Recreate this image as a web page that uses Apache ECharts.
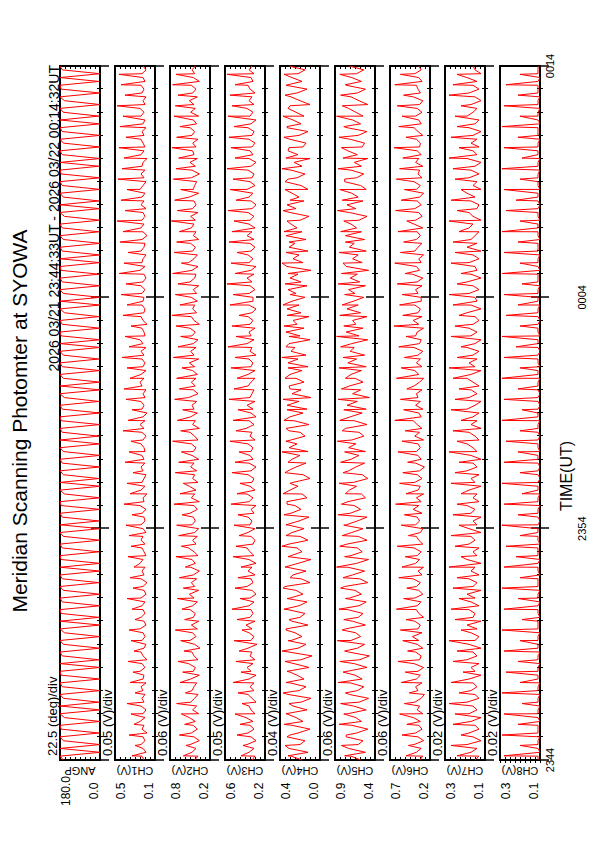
<!DOCTYPE html>
<html><head><meta charset="utf-8">
<script src="https://cdn.jsdelivr.net/npm/echarts@6/dist/echarts.min.js"></script>
<style>
html,body{margin:0;padding:0;background:#fff;width:595px;height:842px;overflow:hidden}
#wrap{position:absolute;left:0;top:0;width:842px;height:595px;transform-origin:0 0;transform:translate(0,842px) rotate(-90deg)}
</style></head>
<body><div id="wrap"></div>
<script>
const TITLE = 'Meridian Scanning Photomter at SYOWA';
const SUBTITLE = '2026 03/21 23:44:33UT - 2026 03/22 00:14:32UT';
const X_NAME = 'TIME(UT)';
const channelNames = ['ANGP','CH1(V)','CH2(V)','CH3(V)','CH4(V)','CH5(V)','CH6(V)','CH7(V)','CH8(V)'];
const scaleTexts = ['22.5 (deg)/div','0.05 (V)/div','0.06 (V)/div','0.05 (V)/div','0.04 (V)/div','0.06 (V)/div','0.06 (V)/div','0.02 (V)/div','0.02 (V)/div'];
const axisMin = [0, 0.1, 0.2, 0.2, 0.0, 0.4, 0.2, 0.1, 0.1];
const axisMax = [180, 0.5, 0.8, 0.6, 0.4, 0.9, 0.7, 0.3, 0.3];
const minLabels = ['0.0','0.1','0.2','0.2','0.0','0.4','0.2','0.1','0.1'];
const maxLabels = ['180.0','0.5','0.8','0.6','0.4','0.9','0.7','0.3','0.3'];
const timeTickMinutes = [0, 10, 20, 30];
const timeTickLabels = ['2344','2354','0004','0014'];
const SAMPLE_STEP_MIN = 1/6; // base samples every 10 s, minutes after 23:44
const DIVS = 8;

// scan-synchronous spike times (minutes after 23:44)
const SPIKE_TIMES = [0.18,0.63,1.08,1.54,1.99,2.44,2.90,3.35,3.80,4.26,4.71,5.16,5.62,6.07,6.52,6.98,7.43,7.88,8.34,8.79,9.24,9.70,
10.15,10.60,11.06,11.51,11.96,12.42,12.87,13.32,13.78,14.23,14.68,15.14,15.59,16.04,16.50,16.95,17.40,17.86,18.31,18.76,19.22,19.67,
20.12,20.58,21.03,21.48,21.94,22.39,22.84,23.30,23.75,24.20,24.66,25.11,25.56,26.02,26.47,26.92,27.38,27.83,28.28,28.74,29.19,29.64];

const ANGP = [
165,180,0,180,0,165,180,5,175,180,0,160,180,0,180,5,165,180,0,170,
180,0,175,180,0,180,5,170,180,0,165,180,0,160,180,0,180,5,175,180,
0,170,180,0,165,180,5,170,180,0,180,0,175,180,5,170,180,0,165,180,
0,180,5,170,180,0,175,180,0,160,180,0,180,5,165,180,0,170,180,0,
165,180,0,180,5,170,180,0,175,180,0,170,180,5,160,180,0,180,0,165,
180,0,170,180,5,165,180,0,180,0,175,180,0,170,180,5,160,180,0,180,
0,165,180,0,170,180,5,175,180,0,180,0,170,180,0,165,180,5,170,180,
0,160,180,0,180,5,165,180,0,170,180,0,175,180,5,180,0,170,180,0,
165,180,0,170,180,0,180,5,165,180,0,160,180,0,175,180,5,180,0,170,
180];
const CH1 = [
.21,.23,.19,.22,.24,.20,.22,.18,.23,.21,.25,.20,.22,.19,.24,.21,.23,.20,.22,.24,
.19,.22,.21,.25,.20,.23,.18,.22,.24,.21,.19,.23,.20,.22,.25,.19,.21,.24,.20,.22,
.23,.20,.24,.19,.21,.22,.18,.24,.21,.23,.20,.25,.22,.19,.21,.23,.20,.24,.22,.19,
.22,.24,.20,.21,.23,.19,.25,.21,.22,.18,.24,.20,.23,.21,.19,.22,.24,.20,.21,.23,
.20,.21,.24,.22,.19,.23,.21,.25,.20,.22,.18,.23,.21,.24,.20,.22,.19,.23,.25,.21,
.24,.19,.22,.20,.23,.21,.24,.19,.22,.25,.20,.21,.23,.18,.22,.24,.21,.20,.23,.22,
.21,.23,.20,.24,.22,.19,.21,.25,.20,.23,.22,.19,.24,.21,.20,.23,.18,.22,.24,.21,
.23,.20,.22,.19,.24,.21,.23,.20,.25,.22,.19,.21,.24,.20,.23,.22,.18,.24,.21,.20,
.22,.24,.21,.23,.19,.22,.20,.24,.21,.25,.20,.22,.19,.23,.21,.24,.20,.22,.23,.19,
.22];
const CH1_SPIKES = [.33,.30,.36,.31,.34,.38,.30,.35,.32,.37,.31,.34,.36,.30,.33,.38,.32,.35,.31,.37,.34,.36,
.39,.33,.41,.35,.38,.32,.40,.36,.34,.42,.37,.33,.39,.41,.35,.38,.43,.36,.40,.34,.42,.38,
.44,.39,.46,.41,.37,.45,.42,.48,.40,.44,.38,.47,.43,.41,.46,.39,.45,.42,.48,.40,.44,.46];
const CH2 = [
.43,.38,.47,.41,.50,.36,.44,.48,.39,.45,.42,.51,.37,.46,.40,.49,.43,.38,.47,.44,
.40,.49,.36,.45,.42,.52,.38,.44,.47,.35,.43,.50,.41,.46,.39,.48,.37,.45,.42,.50,
.46,.39,.44,.51,.37,.43,.48,.40,.45,.36,.49,.42,.47,.38,.44,.52,.41,.46,.39,.43,
.37,.47,.42,.45,.50,.39,.44,.36,.48,.43,.41,.51,.38,.46,.43,.40,.49,.44,.37,.47,
.45,.41,.48,.38,.43,.50,.36,.46,.42,.49,.39,.44,.47,.40,.52,.38,.45,.42,.48,.41,
.39,.46,.43,.51,.37,.44,.49,.41,.45,.38,.47,.42,.50,.36,.44,.48,.40,.46,.43,.39,
.48,.40,.45,.37,.50,.43,.41,.47,.38,.52,.44,.39,.46,.42,.49,.37,.45,.41,.48,.44,
.42,.49,.38,.46,.41,.44,.51,.37,.45,.43,.40,.48,.36,.47,.42,.50,.39,.44,.46,.41,
.46,.38,.47,.43,.50,.40,.45,.37,.49,.42,.44,.51,.39,.46,.41,.48,.36,.45,.43,.47,
.42];
const CH2_SPIKES = [.60,.56,.66,.58,.63,.70,.57,.65,.61,.68,.59,.64,.72,.58,.62,.69,.60,.66,.57,.71,.63,.67,
.70,.62,.74,.65,.60,.72,.67,.63,.76,.64,.69,.61,.73,.66,.70,.62,.75,.68,.64,.71,.77,.65,
.72,.68,.76,.63,.74,.70,.66,.78,.69,.73,.64,.75,.71,.67,.77,.70,.65,.74,.72,.68,.76,.71];
const CH3 = [
.33,.30,.36,.31,.38,.29,.34,.37,.31,.35,.32,.39,.30,.34,.36,.29,.33,.37,.31,.35,
.31,.36,.29,.34,.38,.32,.30,.35,.33,.37,.28,.34,.31,.36,.33,.39,.30,.35,.32,.34,
.36,.31,.35,.29,.33,.38,.32,.34,.30,.37,.33,.29,.36,.31,.35,.38,.32,.30,.34,.37,
.30,.35,.33,.37,.31,.34,.29,.36,.32,.38,.30,.35,.33,.31,.37,.34,.29,.36,.32,.35,
.34,.32,.37,.30,.35,.33,.39,.31,.36,.29,.34,.32,.38,.30,.35,.33,.31,.37,.34,.30,
.37,.30,.34,.32,.36,.29,.35,.33,.38,.31,.34,.36,.30,.35,.32,.37,.33,.29,.36,.32,
.32,.36,.30,.35,.33,.38,.31,.34,.29,.36,.32,.37,.34,.30,.35,.31,.38,.33,.30,.36,
.35,.31,.37,.33,.29,.34,.36,.32,.38,.30,.35,.33,.31,.37,.34,.29,.36,.32,.35,.33,
.30,.36,.33,.31,.37,.34,.29,.35,.32,.38,.31,.36,.33,.30,.35,.37,.32,.34,.31,.36,
.33];
const CH3_SPIKES = [.44,.42,.48,.45,.50,.43,.47,.52,.44,.49,.46,.51,.43,.48,.53,.45,.50,.47,.44,.52,.49,.46,
.51,.47,.54,.48,.45,.53,.50,.46,.55,.49,.52,.47,.56,.51,.48,.54,.50,.57,.49,.53,.46,.55,
.52,.58,.50,.54,.48,.56,.53,.51,.57,.49,.55,.52,.58,.50,.54,.56,.51,.57,.53,.55,.50,.58];
const CH4 = [
.18,.29,.12,.31,.20,.15,.33,.22,.10,.28,.17,.24,.34,.13,.27,.19,.09,.32,.21,.14,
.30,.16,.23,.33,.11,.26,.19,.08,.31,.22,.14,.29,.18,.25,.34,.12,.28,.20,.15,.32,
.21,.13,.30,.17,.24,.35,.10,.19,.27,.14,.33,.22,.09,.29,.18,.23,.31,.12,.20,.28,
.16,.34,.21,.11,.29,.19,.25,.33,.13,.18,.30,.22,.27,.10,.17,.32,.24,.14,.28,.20,
.12,.31,.23,.29,.15,.20,.34,.11,.26,.30,.17,.13,.33,.21,.09,.28,.19,.31,.16,.24,
.30,.18,.12,.32,.22,.14,.29,.25,.31,.10,.20,.34,.16,.23,.27,.11,.19,.33,.21,.28,
.15,.24,.32,.13,.19,.30,.22,.09,.33,.17,.27,.21,.12,.31,.25,.14,.34,.18,.23,.29,
.20,.11,.30,.24,.33,.16,.21,.28,.12,.19,.35,.23,.15,.29,.18,.26,.10,.22,.32,.17,
.14,.30,.21,.12,.33,.19,.27,.16,.24,.32,.10,.20,.29,.23,.13,.34,.18,.28,.22,.15,
.31];
const CH4_SPIKES = [.32,.35,.30,.36,.33,.31,.37,.34,.30,.35,.38,.32,.34,.31,.36,.33,.37,.30,.35,.32,.38,.34,
.31,.36,.33,.37,.30,.35,.32,.38,.34,.31,.36,.33,.37,.30,.35,.32,.38,.34,.31,.36,.33,.37,
.30,.35,.32,.38,.34,.31,.36,.33,.37,.30,.35,.32,.38,.34,.31,.36,.33,.37,.30,.35,.32,.36];
const CH5 = [
.58,.70,.52,.73,.61,.55,.76,.63,.49,.69,.57,.64,.74,.51,.67,.60,.48,.72,.62,.54,
.71,.56,.65,.75,.50,.66,.59,.47,.73,.62,.53,.70,.58,.64,.77,.52,.68,.61,.55,.74,
.60,.51,.72,.57,.65,.78,.49,.59,.68,.53,.74,.63,.48,.70,.56,.62,.75,.50,.61,.69,
.55,.76,.62,.50,.71,.58,.66,.74,.52,.57,.72,.63,.67,.49,.56,.73,.64,.53,.70,.60,
.52,.73,.64,.69,.54,.60,.77,.50,.66,.71,.56,.51,.75,.62,.47,.68,.58,.72,.55,.65,
.70,.57,.51,.74,.63,.53,.71,.66,.69,.49,.60,.76,.55,.64,.68,.50,.58,.75,.61,.67,
.54,.65,.73,.52,.59,.71,.62,.48,.76,.56,.68,.61,.51,.72,.66,.53,.77,.57,.63,.70,
.60,.50,.72,.64,.75,.55,.61,.69,.51,.58,.78,.63,.54,.70,.57,.66,.49,.62,.74,.56,
.53,.71,.61,.50,.75,.58,.68,.55,.64,.73,.49,.60,.70,.62,.52,.76,.57,.69,.63,.54,
.72];
const CH5_SPIKES = [.78,.82,.76,.85,.79,.83,.77,.86,.80,.84,.78,.87,.81,.79,.85,.77,.83,.80,.88,.78,.84,.81,
.79,.86,.82,.77,.85,.80,.83,.78,.87,.81,.84,.79,.86,.82,.77,.85,.80,.83,.88,.79,.84,.81,
.78,.86,.82,.80,.85,.77,.83,.79,.87,.81,.84,.78,.86,.80,.82,.85,.79,.88,.81,.83,.77,.84];
const CH6 = [
.33,.29,.37,.31,.40,.28,.35,.38,.30,.34,.32,.41,.29,.36,.33,.39,.31,.27,.35,.38,
.30,.37,.32,.35,.28,.40,.33,.31,.38,.29,.36,.34,.42,.30,.35,.32,.39,.28,.34,.37,
.36,.31,.39,.29,.34,.37,.32,.41,.30,.35,.28,.38,.33,.36,.31,.40,.29,.34,.37,.32,
.29,.38,.33,.36,.30,.41,.34,.31,.37,.28,.35,.32,.39,.30,.36,.33,.27,.38,.31,.35,
.37,.32,.35,.28,.39,.33,.30,.36,.41,.31,.34,.29,.38,.32,.35,.37,.30,.40,.33,.28,
.34,.39,.30,.37,.32,.35,.29,.40,.33,.31,.38,.36,.28,.34,.41,.30,.35,.32,.39,.31,
.31,.35,.38,.30,.36,.29,.42,.33,.37,.31,.34,.28,.39,.35,.30,.37,.32,.36,.29,.40,
.38,.30,.34,.39,.31,.36,.33,.28,.37,.32,.40,.30,.35,.33,.29,.38,.34,.31,.36,.33,
.32,.37,.29,.35,.40,.31,.34,.38,.30,.36,.33,.29,.41,.32,.35,.37,.30,.34,.39,.31,
.34];
const CH6_SPIKES = [.50,.47,.55,.49,.58,.52,.46,.56,.51,.60,.48,.54,.57,.50,.62,.53,.49,.59,.55,.51,.61,.47,
.56,.52,.63,.50,.58,.54,.48,.60,.55,.51,.64,.53,.57,.49,.62,.56,.52,.59,.50,.65,.54,.58,
.55,.61,.51,.64,.57,.53,.60,.49,.63,.56,.52,.62,.58,.54,.65,.50,.59,.55,.61,.53,.64,.57];
const CH7 = [
.15,.13,.17,.14,.19,.12,.16,.18,.13,.15,.17,.12,.18,.14,.16,.19,.13,.15,.17,.14,
.16,.18,.12,.15,.17,.13,.19,.14,.16,.12,.18,.15,.13,.17,.14,.19,.12,.16,.15,.18,
.13,.17,.15,.19,.12,.16,.14,.18,.13,.17,.15,.12,.19,.14,.16,.13,.18,.15,.17,.12,
.18,.14,.16,.12,.17,.15,.19,.13,.16,.14,.18,.12,.15,.17,.13,.19,.14,.16,.12,.17,
.14,.16,.19,.13,.15,.18,.12,.17,.14,.16,.13,.19,.15,.12,.18,.14,.17,.13,.16,.19,
.17,.12,.15,.18,.14,.16,.13,.19,.15,.12,.17,.14,.18,.16,.13,.15,.19,.12,.17,.14,
.15,.18,.13,.16,.19,.12,.17,.14,.15,.18,.13,.16,.12,.19,.14,.17,.15,.13,.18,.16,
.12,.16,.18,.14,.13,.17,.15,.19,.12,.16,.14,.18,.13,.17,.15,.12,.19,.14,.16,.13,
.17,.14,.16,.12,.18,.15,.13,.19,.16,.14,.17,.12,.15,.18,.13,.16,.14,.19,.12,.15,
.16];
const CH7_SPIKES = [.24,.27,.22,.26,.25,.28,.23,.27,.21,.26,.24,.28,.22,.25,.27,.23,.26,.24,.28,.22,.25,.27,
.23,.26,.24,.22,.27,.25,.23,.28,.24,.26,.22,.27,.25,.23,.26,.28,.24,.22,.27,.25,.23,.26,
.28,.24,.22,.27,.25,.26,.23,.28,.24,.27,.22,.25,.26,.28,.23,.27,.24,.25,.22,.28,.26,.24];
const CH8 = [
.11,.11,.10,.11,.11,.11,.10,.11,.11,.11,.10,.11,.11,.11,.10,.11,.11,.10,.11,.11,
.10,.11,.11,.11,.11,.10,.11,.11,.10,.11,.11,.11,.11,.10,.11,.11,.11,.10,.11,.11,
.11,.10,.11,.11,.10,.11,.11,.11,.10,.11,.11,.11,.10,.11,.11,.11,.10,.11,.11,.11,
.11,.11,.10,.11,.11,.11,.10,.11,.11,.10,.11,.11,.11,.10,.11,.11,.10,.11,.11,.11,
.10,.11,.11,.11,.10,.11,.11,.11,.10,.11,.11,.11,.10,.11,.11,.10,.11,.11,.11,.10,
.11,.11,.10,.11,.11,.11,.10,.11,.11,.11,.10,.11,.11,.11,.10,.11,.11,.11,.10,.11,
.11,.11,.11,.10,.11,.11,.11,.10,.11,.11,.11,.10,.11,.11,.11,.10,.11,.11,.11,.11,
.10,.11,.11,.11,.10,.11,.11,.11,.10,.11,.11,.11,.11,.10,.11,.11,.10,.11,.11,.11,
.11,.10,.11,.11,.11,.10,.11,.11,.11,.10,.11,.11,.10,.11,.11,.11,.11,.10,.11,.11,
.11];
const CH8_SPIKES = [.28,.20,.29,.21,.28,.19,.29,.20,.27,.21,.28,.20,.29,.19,.28,.21,.29,.20,.28,.22,.27,.20,
.29,.21,.28,.19,.29,.20,.28,.21,.27,.20,.29,.19,.28,.21,.29,.20,.28,.22,.29,.20,.27,.21,
.28,.19,.29,.20,.28,.21,.29,.20,.27,.22,.28,.20,.29,.19,.28,.21,.29,.20,.28,.21,.27,.20];

const channelBase = [ANGP, CH1, CH2, CH3, CH4, CH5, CH6, CH7, CH8];
const channelSpikes = [null, CH1_SPIKES, CH2_SPIKES, CH3_SPIKES, CH4_SPIKES, CH5_SPIKES, CH6_SPIKES, CH7_SPIKES, CH8_SPIKES];

const FONT = '"Liberation Sans", Arial, Helvetica, sans-serif';
const GRID_LEFT = 82, GRID_RIGHT = 66, GRID_TOP0 = 60, GRID_STEP = 55, GRID_H = 40;
const RED = '#ff0000';

function buildSeriesData(base, spikes) {
  const pts = base.map((v, k) => [k * SAMPLE_STEP_MIN, v]);
  if (spikes) spikes.forEach((v, k) => pts.push([SPIKE_TIMES[k], v]));
  pts.sort((a, b) => a[0] - b[0]);
  return pts;
}

function timeAxis(gi, pos, mode) {
  const inner = mode === 'inner';
  return {
    gridIndex: gi, type: 'value', position: pos, min: 0, max: 30, interval: 10,
    axisLine: {show: false},
    axisTick: {show: !inner, inside: true, length: 9, lineStyle: {color: '#000', width: 1.5}},
    minorTick: {show: !inner, splitNumber: 10, length: 3, lineStyle: {color: '#000', width: 1}},
    splitLine: {show: false}, minorSplitLine: {show: false},
    axisLabel: {
      show: mode !== 'none', margin: inner ? 36 : 4, fontSize: 11, color: '#000', fontFamily: FONT,
      showMinLabel: true, showMaxLabel: true,
      formatter: function (v) {
        const k = timeTickMinutes.findIndex(t => Math.abs(t - v) < 1e-6);
        if (k < 0) return '';
        const end = (k === 0 || k === timeTickMinutes.length - 1);
        return (inner ? !end : end) ? timeTickLabels[k] : '';
      }
    }
  };
}
function dataAxis(gi) {
  return {
    gridIndex: gi, type: 'value', position: 'left', min: axisMin[gi], max: axisMax[gi],
    axisLine: {show: false}, axisTick: {show: false}, splitLine: {show: false},
    axisLabel: {
      margin: 31, fontSize: 12, color: '#000', fontFamily: FONT, align: 'center',
      showMinLabel: true, showMaxLabel: true,
      verticalAlignMinLabel: 'bottom', verticalAlignMaxLabel: 'top',
      formatter: function (v) {
        if (Math.abs(v - axisMax[gi]) < 1e-9) return maxLabels[gi];
        if (Math.abs(v - axisMin[gi]) < 1e-9) return minLabels[gi];
        return '';
      }
    },
    name: channelNames[gi], nameLocation: 'middle', nameGap: 5, nameMoveOverlap: false,
    nameTextStyle: {fontSize: 11, color: '#000', fontFamily: FONT}
  };
}
function divAxis(gi, pos) {
  return {
    gridIndex: gi, type: 'value', position: pos, min: 0, max: DIVS, interval: 1,
    axisLine: {show: false},
    axisTick: {show: true, inside: true, length: 3, lineStyle: {color: '#000', width: 1}},
    axisLabel: {show: false}, splitLine: {show: false}
  };
}

const option = {
  animation: false,
  backgroundColor: '#fff',
  textStyle: {fontFamily: FONT},
  title: {text: TITLE, left: 'center', top: 9, padding: 0,
    textStyle: {fontSize: 21, fontWeight: 'normal', color: '#000', fontFamily: FONT}},
  grid: [], xAxis: [], yAxis: [], series: [],
  graphic: []
};

option.graphic.push({type: 'text', x: 842 - GRID_RIGHT + 1, y: GRID_TOP0 + 1,
  style: {text: SUBTITLE, fontSize: 14, fontFamily: FONT, fill: '#000', align: 'right', verticalAlign: 'bottom'}});
option.graphic.push({type: 'text', x: 366, y: 566,
  style: {text: X_NAME, fontSize: 16, fontFamily: FONT, fill: '#000', align: 'center', verticalAlign: 'middle'}});

for (let i = 0; i < channelBase.length; i++) {
  const top = GRID_TOP0 + GRID_STEP * i;
  option.grid.push({left: GRID_LEFT, right: GRID_RIGHT, top: top, height: GRID_H,
    show: true, borderColor: '#000', borderWidth: 2, backgroundColor: 'rgba(0,0,0,0)'});
  const last = i === channelBase.length - 1;
  const xi = option.xAxis.length;
  option.xAxis.push(timeAxis(i, 'bottom', last ? 'ends' : 'none'));
  option.xAxis.push(timeAxis(i, 'top', 'none'));
  if (last) option.xAxis.push(timeAxis(i, 'bottom', 'inner'));
  const yi = option.yAxis.length;
  option.yAxis.push(dataAxis(i));
  option.yAxis.push(divAxis(i, 'left'));
  option.yAxis.push(divAxis(i, 'right'));
  option.series.push({
    type: 'line', xAxisIndex: xi, yAxisIndex: yi, symbol: 'none', silent: true, clip: true,
    lineStyle: {color: RED, width: 1},
    data: buildSeriesData(channelBase[i], channelSpikes[i])
  });
  option.graphic.push({type: 'text', x: GRID_LEFT + 4, y: top - 1,
    style: {text: scaleTexts[i], fontSize: 13, fontFamily: FONT, fill: '#000', align: 'left', verticalAlign: 'bottom'}});
}

const chart = echarts.init(document.getElementById('wrap'), null, {renderer: 'svg', width: 842, height: 595});
chart.setOption(option);
</script>
</body></html>
